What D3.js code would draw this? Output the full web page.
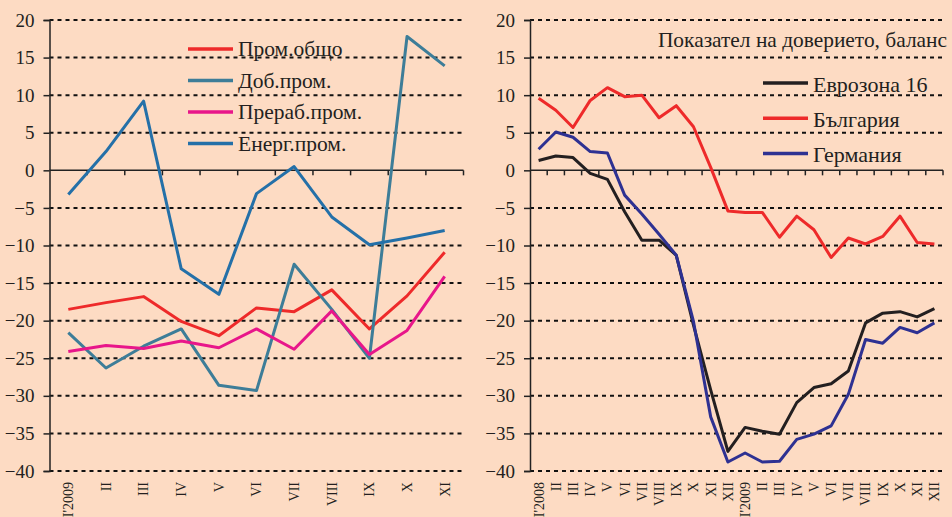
<!DOCTYPE html>
<html>
<head>
<meta charset="utf-8">
<script src="https://cdn.jsdelivr.net/npm/d3@7"></script>
<style>
  body { margin: 0; background: #fddbc3; }
  svg { display: block; font-family: "Liberation Serif", "DejaVu Serif", serif; }
</style>
</head>
<body>
<svg id="chart" width="952" height="517"></svg>
<script>
// left panel: months of 2009
const leftMonths = ["I'2009", "II", "III", "IV", "V", "VI", "VII", "VIII", "IX", "X", "XI"];
const promObshto = [-18.5, -17.6, -16.8, -20.1, -22.0, -18.3, -18.8, -15.9, -21.1, -16.7, -10.9];
const dobProm = [-21.6, -26.3, -23.4, -21.1, -28.6, -29.3, -12.5, -18.5, -25.0, 17.8, 13.9];
const prerabProm = [-24.1, -23.3, -23.7, -22.7, -23.6, -21.1, -23.8, -18.7, -24.5, -21.3, -14.1];
const energProm = [-3.2, 2.5, 9.2, -13.1, -16.5, -3.1, 0.5, -6.2, -9.9, -9.0, -8.0];

// right panel: months of 2008-2009
const rightMonths = ["I'2008", "II", "III", "IV", "V", "VI", "VII", "VIII", "IX", "X", "XI", "XII",
                     "I'2009", "II", "III", "IV", "V", "VI", "VII", "VIII", "IX", "X", "XI", "XII"];
const eurozone = [1.3, 1.9, 1.7, -0.4, -1.2, -5.5, -9.3, -9.3, -11.3, -20.6, -29.2, -37.4,
                  -34.2, -34.7, -35.1, -30.9, -28.9, -28.4, -26.7, -20.3, -19.0, -18.8, -19.5, -18.4];
const bulgaria = [9.6, 8.0, 5.7, 9.3, 11.0, 9.8, 10.0, 7.0, 8.6, 5.8, 0.4, -5.4,
                  -5.6, -5.6, -8.9, -6.1, -7.9, -11.6, -9.0, -9.8, -8.8, -6.1, -9.6, -9.8];
const germany = [2.8, 5.1, 4.4, 2.5, 2.3, -3.3, -5.8, -8.5, -11.3, -20.1, -32.8, -38.8,
                 -37.6, -38.8, -38.7, -35.8, -35.1, -34.0, -29.8, -22.5, -23.0, -20.9, -21.6, -20.3];

const yTicks = d3.range(-40, 21, 5);

const leftSeries = [
  {name: "Пром.общо", values: promObshto, color: "#ee2a2a"},
  {name: "Доб.пром.", values: dobProm, color: "#3d7d98"},
  {name: "Прераб.пром.", values: prerabProm, color: "#e8168a"},
  {name: "Енерг.пром.", values: energProm, color: "#2470a8"}
];
const rightSeries = [
  {name: "Еврозона 16", values: eurozone, color: "#231f20"},
  {name: "България", values: bulgaria, color: "#ee2a2a"},
  {name: "Германия", values: germany, color: "#2e3192"}
];

const svg = d3.select("#chart");

function panel(opts) {
  const g = svg.append("g");
  const x = d3.scaleBand().domain(d3.range(opts.cats.length)).range([opts.x0, opts.x1]);
  const y = d3.scaleLinear().domain([-40, 20]).range([471, 20]);

  // dashed grid
  g.append("g").selectAll("line")
    .data(yTicks.filter(d => d !== 0))
    .enter().append("line")
    .attr("x1", opts.x0).attr("x2", opts.x1)
    .attr("y1", d => y(d)).attr("y2", d => y(d))
    .attr("stroke", "#111").attr("stroke-width", 2)
    .attr("stroke-dasharray", "4,4");

  // y axis
  const ya = g.append("g")
    .attr("transform", "translate(" + opts.x0 + ",0)")
    .call(d3.axisLeft(y).tickValues(yTicks).tickSize(6).tickPadding(9).tickFormat(d3.format("d")));
  ya.select(".domain").attr("stroke", "#222").attr("stroke-width", 1.5);
  ya.selectAll(".tick line").attr("stroke", "#222").attr("stroke-width", 1.5);
  ya.selectAll(".tick text").attr("font-size", 19).attr("fill", "#231f20")
    .attr("font-family", "Liberation Serif");

  // zero line with ticks between months
  g.append("line")
    .attr("x1", opts.x0).attr("x2", opts.x1)
    .attr("y1", y(0)).attr("y2", y(0))
    .attr("stroke", "#222").attr("stroke-width", 1.5);
  g.append("g").selectAll("line")
    .data(d3.range(1, opts.cats.length + 1))
    .enter().append("line")
    .attr("x1", d => opts.x0 + d * x.bandwidth()).attr("x2", d => opts.x0 + d * x.bandwidth())
    .attr("y1", y(0)).attr("y2", y(0) + 5)
    .attr("stroke", "#222").attr("stroke-width", 1.5);

  // month labels
  g.append("g").selectAll("text")
    .data(opts.cats)
    .enter().append("text")
    .attr("transform", (d, i) => "translate(" + (x(i) + x.bandwidth() / 2) + "," + 482 + ") rotate(-90)")
    .attr("text-anchor", "end")
    .attr("dy", "0.35em")
    .attr("font-size", opts.labelSize)
    .attr("fill", "#231f20")
    .text(d => d);

  const line = d3.line()
    .x((d, i) => x(i) + x.bandwidth() / 2)
    .y(d => y(d));

  opts.series.forEach(s => {
    g.append("path")
      .datum(s.values)
      .attr("fill", "none")
      .attr("stroke", s.color)
      .attr("stroke-width", 3)
      .attr("stroke-linejoin", "round")
      .attr("d", line);
  });

  // legend
  const lg = g.append("g");
  opts.series.forEach((s, i) => {
    const ly = opts.legendY + i * opts.legendStep;
    lg.append("line")
      .attr("x1", opts.legendX).attr("x2", opts.legendX + 45)
      .attr("y1", ly).attr("y2", ly)
      .attr("stroke", s.color).attr("stroke-width", 3.5);
    lg.append("text")
      .attr("x", opts.legendX + 50).attr("y", ly + opts.legendBase)
      .attr("font-size", opts.legendSize)
      .attr("fill", "#231f20")
      .text(s.name);
  });
  return g;
}

panel({cats: leftMonths, series: leftSeries, x0: 49.5, x1: 463.5, labelSize: 14,
       legendX: 188, legendY: 49, legendStep: 31.5, legendBase: 7, legendSize: 21.5});
const rg = panel({cats: rightMonths, series: rightSeries, x0: 530, x1: 943, labelSize: 14,
       legendX: 763, legendY: 83, legendStep: 35.3, legendBase: 8.5, legendSize: 22});

rg.append("text")
  .attr("x", 947).attr("y", 46.5)
  .attr("text-anchor", "end")
  .attr("font-size", 21.4)
  .attr("fill", "#231f20")
  .text("Показател на доверието, баланс");
</script>
</body>
</html>
